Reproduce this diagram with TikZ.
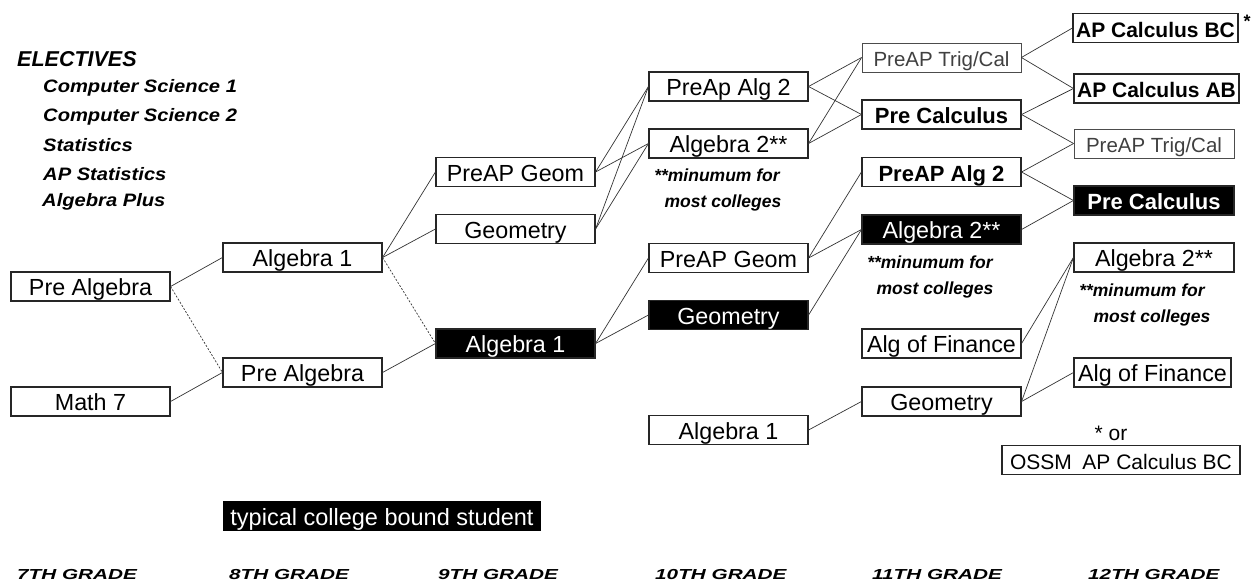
\documentclass[tikz,border=0pt]{standalone}
\usepackage{graphicx}
\usepackage{fontspec}
\setmainfont{Liberation Sans}
\newcommand{\regf}{\fontsize{23.3}{26}\selectfont}
\newcommand{\boldf}{\fontsize{22}{26}\selectfont\bfseries}
\newcommand{\litef}{\fontsize{20.5}{24}\selectfont}
\newcommand{\elf}{\fontsize{18}{22}\selectfont\bfseries\itshape}
\newcommand{\notef}{\fontsize{17.5}{20}\selectfont\bfseries\itshape}
\newcommand{\gradef}{\fontsize{14.5}{18}\selectfont\bfseries\itshape}
\newcommand{\wide}[1]{\scalebox{1.43}[1]{#1}}
\newcommand{\elwide}[1]{\scalebox{1.12}[1]{#1}}
\begin{document}
\begin{tikzpicture}[x=1pt,y=-1pt,
  box/.style={draw=black!85, line width=1.1pt, minimum width=159pt, minimum height=29pt, inner sep=0pt, text height=18.5pt, text depth=0pt, font=\regf},
  blk/.style={box, fill=black, text=white},
  lite/.style={box, draw=black!70, line width=0.8pt, text=black!75, font=\litef},
  bbox/.style={box, font=\boldf},
  con/.style={draw=black!80, line width=0.7pt},
  dsh/.style={con, dash pattern=on 2pt off 1.6pt},
  eltxt/.style={anchor=west, inner sep=0pt, font=\elf},
  note/.style={inner sep=0pt, font=\notef},
  grade/.style={anchor=base west, inner sep=0pt, font=\gradef}]
\useasboundingbox (0,0) rectangle (1251,581);

% electives
\node[eltxt, font=\fontsize{21.5}{24}\selectfont\bfseries\itshape] (el0) at (17,59) {ELECTIVES};
\node[eltxt] (el1) at (43,88) {\elwide{Computer Science 1}};
\node[eltxt] (el2) at (43,117) {\elwide{Computer Science 2}};
\node[eltxt] (el3) at (43,145) {\elwide{Statistics}};
\node[eltxt] (el4) at (43,174) {\elwide{AP Statistics}};
\node[eltxt] (el5) at (42,202) {\elwide{Algebra Plus}};

% 7th
\node[box] (pa7) at (90.5,286.5) {Pre Algebra};
\node[box] (m7) at (90.5,401.5) {Math 7};
% 8th
\node[box] (a18) at (302.5,257.5) {Algebra 1};
\node[box] (pa8) at (302.5,372.5) {Pre Algebra};
% 9th
\node[box] (pg9) at (515.5,172) {PreAP Geom};
\node[box] (g9) at (515.5,229) {Geometry};
\node[blk] (a1b9) at (515.5,343.5) {Algebra 1};
% 10th
\node[box] (pa210) at (728.5,86.5) {PreAp Alg 2};
\node[box] (a210) at (728.5,143.5) {Algebra 2**};
\node[note] (n10a) at (717,175) {**minumum for};
\node[note] (n10b) at (723,203) {most colleges};
\node[box] (pg10) at (728.5,258) {PreAP Geom};
\node[blk] (gb10) at (728.5,315) {Geometry};
\node[box] (a110) at (728.5,430) {Algebra 1};
% 11th
\node[lite] (ptc11) at (941.5,57.5) {PreAP Trig/Cal};
\node[bbox] (pc11) at (941.5,114.5) {Pre Calculus};
\node[bbox] (pa211) at (941.5,172) {PreAP Alg 2};
\node[blk] (a2b11) at (941.5,229.5) {Algebra 2**};
\node[note] (n11a) at (930,262) {**minumum for};
\node[note] (n11b) at (935,290) {most colleges};
\node[box] (af11) at (941.5,343.5) {Alg of Finance};
\node[box] (geo11) at (941.5,401.5) {Geometry};
% 12th
\node[bbox, minimum width=165pt, font=\fontsize{21}{24}\selectfont\bfseries] (bc) at (1155.5,28) {AP Calculus BC};
\node[inner sep=0pt, font=\fontsize{18}{20}\selectfont\bfseries] (star) at (1247,21) {*};
\node[bbox, minimum width=165pt, font=\fontsize{21}{24}\selectfont\bfseries] (ab) at (1156.5,88.5) {AP Calculus AB};
\node[lite, minimum width=160pt] (ptc12) at (1154,143.5) {PreAP Trig/Cal};
\node[blk, minimum width=160pt, font=\boldf] (pcb12) at (1154,200.5) {Pre Calculus};
\node[box, minimum width=160pt] (a212) at (1154,257.5) {Algebra 2**};
\node[note] (n12a) at (1142,290) {**minumum for};
\node[note] (n12b) at (1152,318) {most colleges};
\node[box, minimum width=157pt] (af12) at (1152.5,372.5) {Alg of Finance};
\node[inner sep=0pt, font=\fontsize{21}{24}\selectfont] (or) at (1111,433) {* or};
\node[box, minimum width=238pt, font=\fontsize{21}{24}\selectfont] (ossm) at (1121,460) {OSSM\hspace{0.5em}AP Calculus BC};

% typical
\node[fill=black, text=white, minimum width=318pt, minimum height=30pt, inner sep=0pt, text height=19pt, text depth=0pt, font=\fontsize{23.5}{26}\selectfont] (typ) at (382,516) {typical college bound student};

% grades
\node[grade] (g7) at (17,579) {\wide{7TH GRADE}};
\node[grade] (g8) at (229,579) {\wide{8TH GRADE}};
\node[grade] (g9l) at (438,579) {\wide{9TH GRADE}};
\node[grade] (g10) at (655,579) {\wide{10TH GRADE}};
\node[grade] (g11) at (872,579) {\wide{11TH GRADE}};
\node[grade] (g12) at (1088,579) {\wide{12TH GRADE}};

% connectors 7 -> 8
\draw[con] (pa7.east) -- (a18.west);
\draw[dsh] (pa7.east) -- (pa8.west);
\draw[con] (m7.east) -- (pa8.west);
% 8 -> 9
\draw[con] (a18.east) -- (pg9.west);
\draw[con] (a18.east) -- (g9.west);
\draw[dsh] (a18.east) -- (a1b9.west);
\draw[con] (pa8.east) -- (a1b9.west);
% 9 -> 10
\draw[con] (pg9.east) -- (pa210.west);
\draw[con] (pg9.east) -- (a210.west);
\draw[con] (g9.east) -- (pa210.west);
\draw[con] (g9.east) -- (a210.west);
\draw[con] (a1b9.east) -- (pg10.west);
\draw[con] (a1b9.east) -- (gb10.west);
% 10 -> 11
\draw[con] (pa210.east) -- (ptc11.west);
\draw[con] (pa210.east) -- (pc11.west);
\draw[con] (a210.east) -- (ptc11.west);
\draw[con] (a210.east) -- (pc11.west);
\draw[con] (pg10.east) -- (pa211.west);
\draw[con] (pg10.east) -- (a2b11.west);
\draw[con] (gb10.east) -- (a2b11.west);
\draw[con] (a110.east) -- (geo11.west);
% 11 -> 12
\draw[con] (ptc11.east) -- (bc.west);
\draw[con] (ptc11.east) -- (ab.west);
\draw[con] (pc11.east) -- (ab.west);
\draw[con] (pc11.east) -- (ptc12.west);
\draw[con] (pa211.east) -- (ptc12.west);
\draw[con] (pa211.east) -- (pcb12.west);
\draw[con] (a2b11.east) -- (pcb12.west);
\draw[con] (af11.east) -- (a212.west);
\draw[con] (geo11.east) -- (a212.west);
\draw[con] (geo11.east) -- (af12.west);
\end{tikzpicture}
\end{document}
